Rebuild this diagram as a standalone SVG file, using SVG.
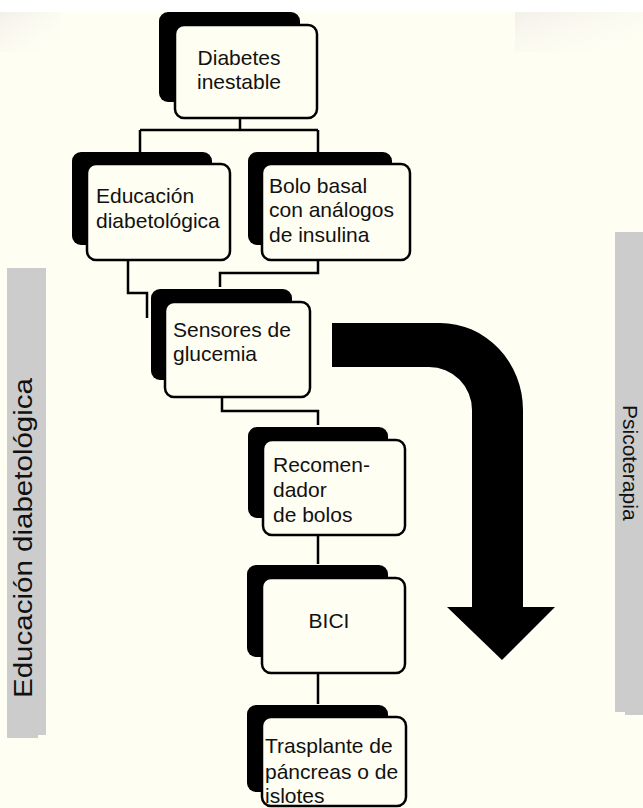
<svg xmlns="http://www.w3.org/2000/svg" width="643" height="808" viewBox="0 0 643 808">
<defs>
<style>
.sh{fill:#000}
.bx{fill:#fffef3;stroke:#000;stroke-width:2.5}
.t{font-family:"Liberation Sans",Arial,sans-serif;font-size:21px;fill:#111}
.c{fill:none;stroke:#000;stroke-width:2.5}
.bar{fill:#cccccc}
</style>
<linearGradient id="gl" x1="0" y1="0" x2="1" y2="1">
<stop offset="0" stop-color="#f2f0ea"/>
<stop offset="1" stop-color="#fffef3" stop-opacity="0"/>
</linearGradient>
</defs>
<rect width="643" height="808" fill="#fffef3"/>
<rect width="643" height="12" fill="#ffffff"/>
<rect x="0" y="12" width="60" height="40" fill="url(#gl)"/>
<rect x="515" y="12" width="128" height="40" fill="url(#gl)"/>

<g id="bar-left">
<path class="bar" d="M7,268 H46 V735 H38 V738 H7 Z"/>
<text class="t" transform="translate(32,698) rotate(-90)" style="font-size:26px" textLength="320" lengthAdjust="spacingAndGlyphs">Educación diabetológica</text>
</g>
<g id="bar-right">
<path class="bar" d="M615,232 H643 V715 H625 V712 H615 Z"/>
<text class="t" transform="translate(623,405) rotate(90)" style="font-size:21px">Psicoterapia</text>
</g>

<g id="connectors">
<path class="c" d="M240,118 V130 M140,130 H318 M140,130 V152 M318,130 V152"/>
<path class="c" d="M128,260 V293 H147 V318"/>
<path class="c" d="M318,260 V273 H220 V287"/>
<path class="c" d="M222,397 V411 H318 V425"/>
<path class="c" d="M318,535 V564"/>
<path class="c" d="M318,673 V704"/>
</g>

<g id="big-arrow">
<path fill="#000" d="M332,323 H440 A83,87 0 0 1 523,410 V607 H555 L502,660 L447,607 H472 V410 A43,43 0 0 0 429,367 H332 Z"/>
</g>

<g id="n1">
<rect class="sh" x="159" y="12" width="141" height="90" rx="9"/>
<rect class="bx" x="175" y="25" width="142" height="93" rx="9"/>
<text class="t" x="239" y="65" text-anchor="middle">Diabetes</text>
<text class="t" x="239" y="89" text-anchor="middle">inestable</text>
</g>

<g id="n2">
<rect class="sh" x="72" y="152" width="140" height="93" rx="9"/>
<rect class="bx" x="87" y="164" width="143" height="96" rx="9"/>
<text class="t" x="96" y="203">Educación</text>
<text class="t" x="96" y="228">diabetológica</text>
</g>

<g id="n3">
<rect class="sh" x="248" y="152" width="144" height="93" rx="9"/>
<rect class="bx" x="262" y="164" width="148" height="96" rx="9"/>
<text class="t" x="269" y="193">Bolo basal</text>
<text class="t" x="269" y="217">con análogos</text>
<text class="t" x="269" y="242">de insulina</text>
</g>

<g id="n4">
<rect class="sh" x="151" y="289" width="141" height="91" rx="9"/>
<rect class="bx" x="165" y="302" width="145" height="95" rx="9"/>
<text class="t" x="173" y="337">Sensores de</text>
<text class="t" x="173" y="361">glucemia</text>
</g>

<g id="n5">
<rect class="sh" x="248" y="427" width="140" height="91" rx="9"/>
<rect class="bx" x="263" y="440" width="142" height="95" rx="9"/>
<text class="t" x="273" y="472">Recomen-</text>
<text class="t" x="273" y="497">dador</text>
<text class="t" x="273" y="522">de bolos</text>
</g>

<g id="n6">
<rect class="sh" x="247" y="565" width="141" height="92" rx="9"/>
<rect class="bx" x="262" y="578" width="143" height="95" rx="9"/>
<text class="t" x="329" y="628" text-anchor="middle">BICI</text>
</g>

<g id="n7">
<rect class="sh" x="247" y="705" width="141" height="87" rx="9"/>
<rect class="bx" x="262" y="717" width="144" height="89" rx="9"/>
<text class="t" x="265" y="753">Trasplante de</text>
<text class="t" x="265" y="779">páncreas o de</text>
<text class="t" x="265" y="803">islotes</text>
</g>
</svg>
